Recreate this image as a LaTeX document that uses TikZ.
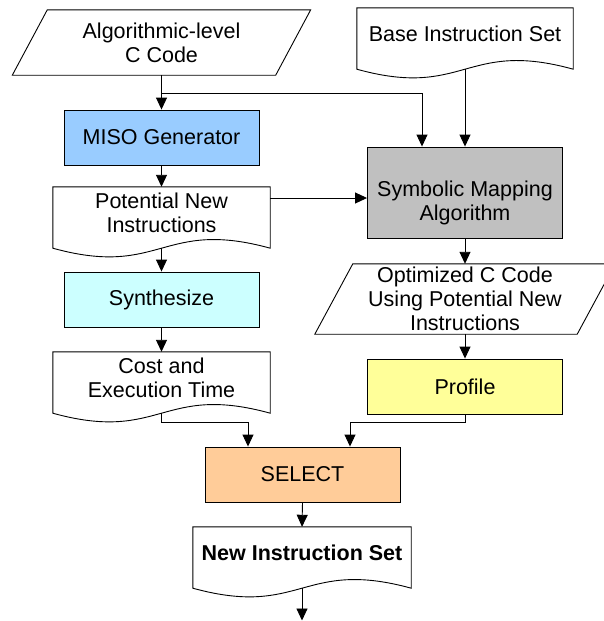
\documentclass[tikz,border=0pt]{standalone}
\usepackage{fontspec}
\setmainfont{Liberation Sans}
\usetikzlibrary{arrows.meta,calc}

\definecolor{misoblue}{HTML}{99CCFF}
\definecolor{synthcyan}{HTML}{CCFFFF}
\definecolor{mapgray}{HTML}{C0C0C0}
\definecolor{profyellow}{HTML}{FFFF99}
\definecolor{selpeach}{HTML}{FFCC99}

\tikzset{
  x=1pt, y=1pt,
  every node/.style={font=\fontsize{21.5}{24}\selectfont, align=center, inner sep=0pt},
  proc/.style={rectangle, draw=black, line width=0.9pt,
    minimum width=195pt, minimum height=55pt},
  % parallelogram (data) shape drawn around a text rectangle; #1 = half slant
  iobox/.style={rectangle, append after command={\pgfextra{
    \draw[line width=0.9pt]
      ([xshift=-#1]\tikzlastnode.south west) -- ([xshift=-#1]\tikzlastnode.south east)
      -- ([xshift=#1]\tikzlastnode.north east) -- ([xshift=#1]\tikzlastnode.north west)
      -- cycle;}}},
  % document shape: straight top and sides, wavy bottom 10pt below the text box
  docbox/.style={rectangle, minimum height=51pt, append after command={\pgfextra{
    \draw[line width=0.9pt]
      (\tikzlastnode.north west) -- ([yshift=-10pt]\tikzlastnode.south west)
      .. controls ([yshift=-40pt]\tikzlastnode.south) and ([yshift=20pt]\tikzlastnode.south)
      .. ([yshift=-10pt]\tikzlastnode.south east) -- (\tikzlastnode.north east) -- cycle;}}},
  flow/.style={line width=0.9pt, -{Triangle[length=12pt,width=11pt]}}
}

\begin{document}
\begin{tikzpicture}
\useasboundingbox (0,0) rectangle (603,-621);

% inputs
\node[iobox=17.5pt, minimum width=263pt, minimum height=65pt] (alg) at (161.5,-42.5)
  {Algorithmic-level\\C Code};
\node[docbox, minimum width=216pt] (base) at (465,-33.5) {Base Instruction Set};

% left column
\node[proc, fill=misoblue] (miso) at (161.5,-137.5) {MISO Generator};
\node[docbox, minimum width=217pt] (pot) at (161.5,-212.5) {Potential New\\Instructions};
\node[proc, fill=synthcyan] (synth) at (161.5,-299.5) {Synthesize};
\node[docbox, minimum width=217pt] (cost) at (161.5,-377.5) {Cost and\\Execution Time};

% right column (text sits a little below the middle of the mapping box)
\node[proc, fill=mapgray, minimum height=91pt] (symb) at (465,-192.5)
  {\raisebox{-16pt}[0pt][0pt]{\begin{tabular}{@{}c@{}}Symbolic Mapping\\Algorithm\end{tabular}}};
\node[iobox=19pt, minimum width=262pt, minimum height=70pt] (opt) at (465,-299)
  {Optimized C Code\\Using Potential New\\Instructions};
\node[proc, fill=profyellow] (prof) at (465,-386.5) {Profile};

% selection and result
\node[proc, fill=selpeach] (sel) at (302.5,-474.5) {SELECT};
\node[docbox, minimum width=218pt] (newset) at (302,-552.5) {\textbf{New Instruction Set}};
\coordinate (out) at (302,-620.5);

% connectors
\coordinate (split) at (161.5,-93);
\draw[flow] (alg.south) -- (miso.north);
\draw[flow] (split) -| ([xshift=-43pt]symb.north);
\draw[flow] ([yshift=-10pt]base.south) -- (symb.north);
\draw[flow] (miso.south) -- (pot.north);
\coordinate (mapin) at ([yshift=-5.5pt]symb.west);
\draw[flow] (pot.east |- mapin) -- (mapin);
\draw[flow] ([yshift=-10pt]pot.south) -- (synth.north);
\draw[flow] (synth.south) -- (cost.north);
\draw[flow] (symb.south) -- (opt.north);
\draw[flow] (opt.south) -- (prof.north);
\draw[flow] ([yshift=-10pt]cost.south) |- ([xshift=-54.5pt,yshift=24pt]sel.north)
  -- ([xshift=-54.5pt]sel.north);
\draw[flow] (prof.south) |- ([xshift=47.5pt,yshift=24pt]sel.north)
  -- ([xshift=47.5pt]sel.north);
\draw[flow] (sel.south) -- (newset.north);
\draw[flow] ([yshift=-10pt]newset.south) -- (out);
\end{tikzpicture}
\end{document}
